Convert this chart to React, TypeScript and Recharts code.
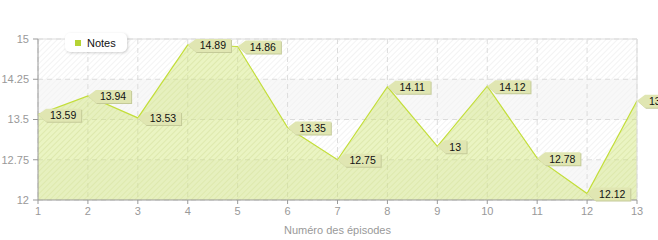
import React from "react";
import {
  AreaChart,
  Area,
  XAxis,
  YAxis,
  CartesianGrid,
  Legend,
  LabelList,
  ReferenceLine,
} from "recharts";

const episodes = [1, 2, 3, 4, 5, 6, 7, 8, 9, 10, 11, 12, 13];
const notes = [13.59, 13.94, 13.53, 14.89, 14.86, 13.35, 12.75, 14.11, 13, 14.12, 12.78, 12.12, 13.85];
const yTicks = [12, 12.75, 13.5, 14.25, 15];

const chartData = episodes.map((ep, i) => ({ episode: ep, notes: notes[i] }));

const font = "'Liberation Sans', Arial, sans-serif";

// callout bubble to the right of each point
function Callout(props: any) {
  const { x, y, value } = props;
  if (x == null || y == null) return null;
  const txt = String(value);
  const tw = txt.split("").reduce((s, c) => s + (c === "." ? 2.8 : 5.6), 0);
  const bx = x + 8;
  const w = tw + 10;
  const pts = (dx: number, dy: number) =>
    `${x + dx},${y + dy} ${bx + dx},${y - 6 + dy} ${bx + w + dx},${y - 6 + dy} ${bx + w + dx},${y + 7 + dy} ${bx + dx},${y + 7 + dy}`;
  return (
    <g>
      <polygon points={pts(1, 1)} fill="#c4ca98" />
      <polygon points={pts(0, 0)} fill="#e0e6b2" />
      <text x={bx + 4} y={y + 4.5} fontSize={10.5} fontFamily={font} fill="#111">
        {txt}
      </text>
    </g>
  );
}

function LegendBox() {
  return (
    <div
      style={{
        width: 62,
        height: 19,
        background: "#fff",
        borderRadius: 5,
        boxShadow: "1px 1px 3px rgba(0,0,0,0.18)",
        display: "flex",
        alignItems: "center",
        fontFamily: font,
        fontSize: 11,
        color: "#111",
      }}
    >
      <span style={{ width: 6, height: 6, background: "#b5d334", marginLeft: 10, marginRight: 6 }} />
      Notes
    </div>
  );
}

export default function App() {
  return (
    <div style={{ position: "fixed", left: 0, top: 0, width: 658, height: 240, background: "#fff" }}>
      <AreaChart
        width={658}
        height={240}
        data={chartData}
        margin={{ top: 20, right: 21, bottom: 0, left: 0 }}
      >
        <defs>
          <pattern id="bgHatch" patternUnits="userSpaceOnUse" width={4} height={4} patternTransform="rotate(45)">
            <rect width={4} height={4} fill="#ffffff" />
            <line x1={0} y1={0} x2={0} y2={4} stroke="#ececec" strokeWidth={1.2} />
          </pattern>
          <pattern id="bgGray" patternUnits="userSpaceOnUse" width={4} height={4} patternTransform="rotate(45)">
            <rect width={4} height={4} fill="#f8f8f8" />
            <line x1={0} y1={0} x2={0} y2={4} stroke="#f1f1f1" strokeWidth={1.2} />
          </pattern>
          <pattern id="areaHatch" patternUnits="userSpaceOnUse" width={4} height={4} patternTransform="rotate(45)">
            <rect width={4} height={4} fill="rgba(205,228,110,0.42)" />
            <line x1={0} y1={0} x2={0} y2={4} stroke="rgba(190,215,90,0.22)" strokeWidth={1.2} />
          </pattern>
        </defs>
        <CartesianGrid
          stroke="#dcdcdc"
          strokeDasharray="5 4"
          horizontalFill={["url(#bgHatch)", "url(#bgGray)"]}
          fillOpacity={1}
        />
        <ReferenceLine y={15} stroke="#dddddd" />
        <ReferenceLine x={13} stroke="#dddddd" />
        <XAxis
          dataKey="episode"
          type="number"
          domain={[1, 13]}
          ticks={episodes}
          interval={0}
          height={40}
          tickSize={4}
          tickMargin={3}
          stroke="#999"
          tick={{ fill: "#999", fontSize: 11, fontFamily: font }}
          label={{
            value: "Numéro des épisodes",
            position: "insideBottom",
            offset: 6,
            fill: "#999",
            fontSize: 11,
            fontFamily: font,
          }}
        />
        <YAxis
          type="number"
          domain={[12, 15]}
          ticks={yTicks}
          width={38}
          tickSize={5}
          tickMargin={4}
          stroke="#999"
          tick={{ fill: "#999", fontSize: 11, fontFamily: font }}
        />
        <Legend
          verticalAlign="top"
          align="left"
          content={() => <LegendBox />}
          wrapperStyle={{ position: "absolute", left: 65, top: 33, width: "auto" }}
        />
        <Area
          type="linear"
          dataKey="notes"
          name="Notes"
          stroke="#c3de3a"
          strokeWidth={1.2}
          fill="url(#areaHatch)"
          fillOpacity={1}
          dot={false}
          activeDot={false}
          isAnimationActive={false}
        >
          <LabelList dataKey="notes" content={<Callout />} />
        </Area>
      </AreaChart>
    </div>
  );
}
